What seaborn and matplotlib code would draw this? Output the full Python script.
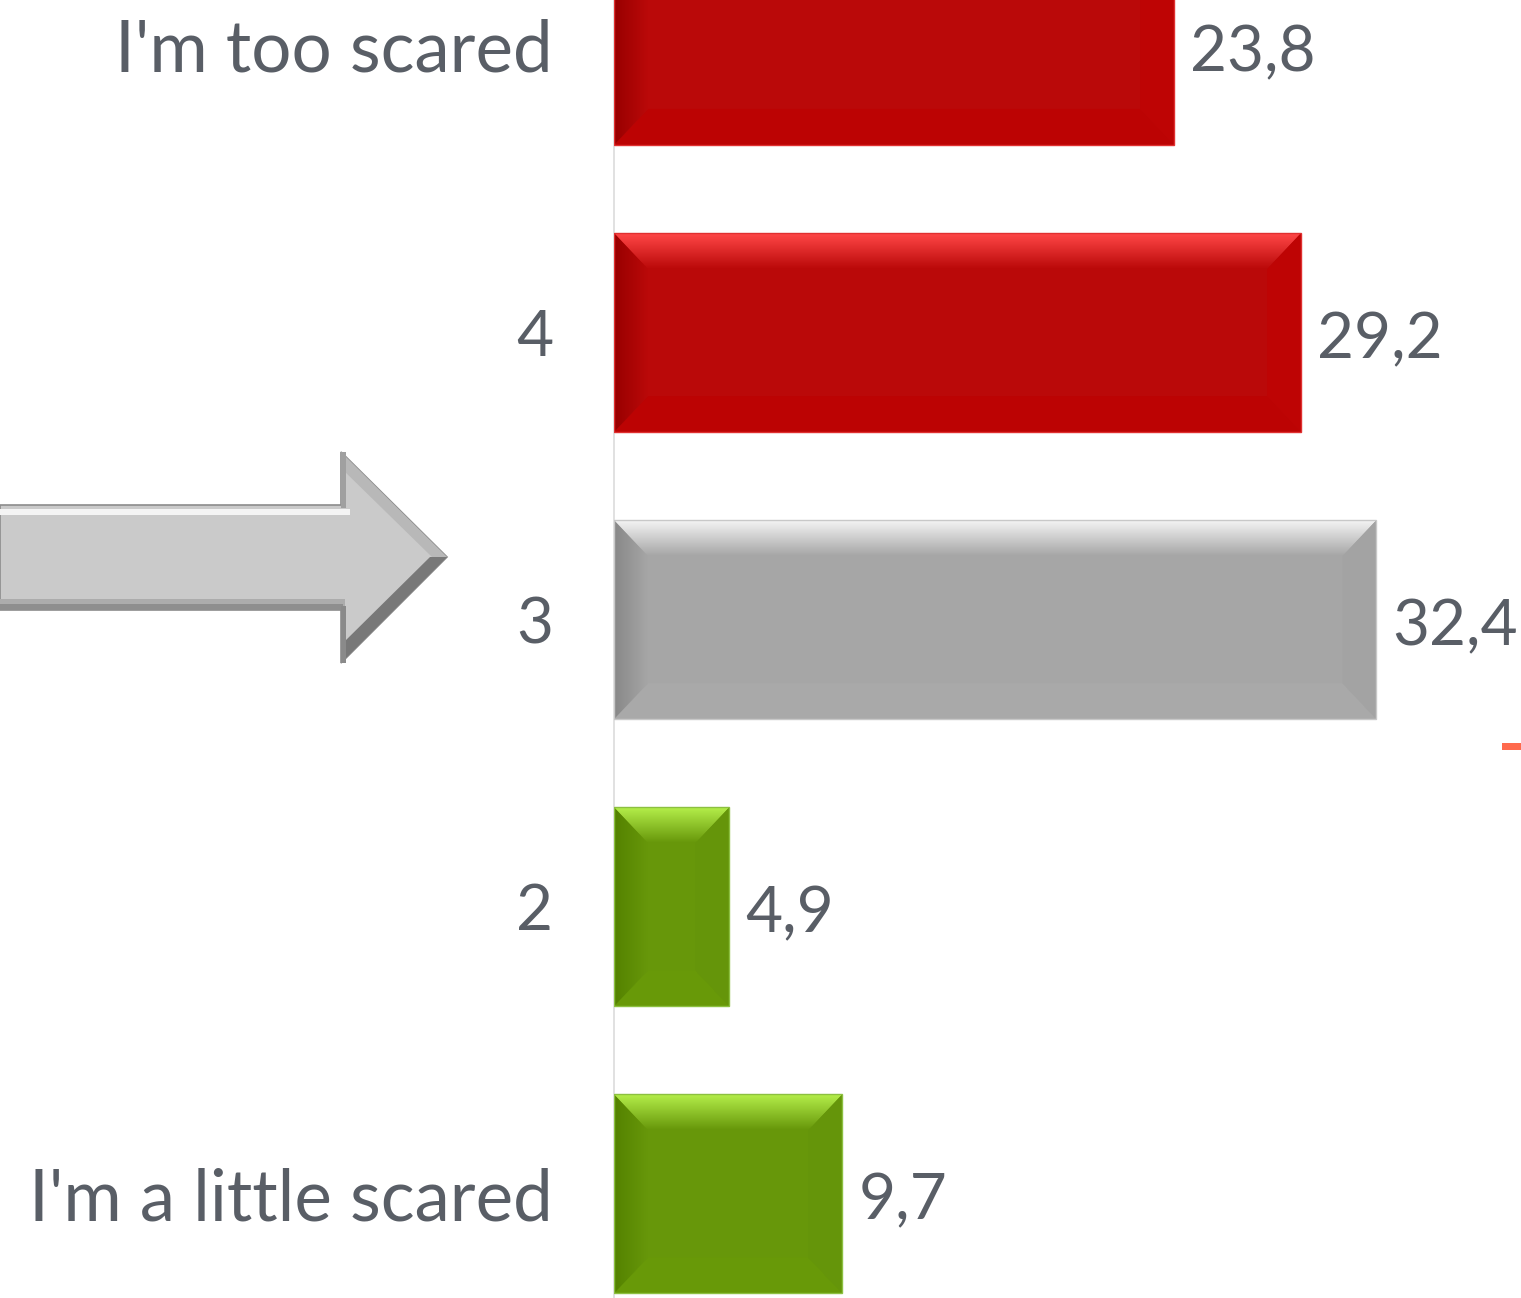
import numpy as np
import pandas as pd
import matplotlib
matplotlib.use("Agg")
import matplotlib.pyplot as plt
import seaborn as sns
from matplotlib.patches import Polygon, Rectangle
from matplotlib.colors import LinearSegmentedColormap

# ---- data ----
categories = ["I'm too scared", "4", "3", "2", "I'm a little scared"]
values = [23.8, 29.2, 32.4, 4.9, 9.7]
value_labels = ["23,8", "29,2", "32,4", "4,9", "9,7"]

# ---- styles ----
bar_colors = ["#BA0909", "#BA0909", "#A6A6A6", "#67970A", "#67970A"]
top_colors = ["#FF4747", "#FF4747", "#F4F4F4", "#B4EE4A", "#B4EE4A"]
left_colors = ["#980000", "#980000", "#888888", "#548200", "#548200"]
right_colors = ["#BE0404", "#BE0404", "#A3A3A3", "#65950A", "#65950A"]
bottom_colors = ["#BC0303", "#BC0303", "#A9A9A9", "#689908", "#689908"]
edge_colors = ["#E03030", "#E03030", "#C8C8C8", "#8CC040", "#8CC040"]
text_color = "#595E66"

W, H = 1521, 1298
sns.set_theme(style="white")
plt.rcParams['font.family'] = ['Lato', 'DejaVu Sans']

fig = plt.figure(figsize=(W / 100, H / 100), dpi=100)

# decorative overlay (arrow) in pixel coordinates
deco = fig.add_axes([0, 0, 1, 1])
deco.set_xlim(0, W)
deco.set_ylim(H, 0)
deco.axis("off")
deco.patch.set_alpha(0)

arrow_pts = [(0, 505), (341, 505), (341, 452), (447, 557), (341, 663), (341, 610), (0, 610)]
deco.add_patch(Polygon(arrow_pts, closed=True, facecolor="#CACACA", edgecolor="#8C8C8C", lw=1.2))
deco.add_patch(Rectangle((0, 509), 350, 6, facecolor="#F4F4F4", edgecolor="none"))
deco.add_patch(Rectangle((0, 599), 345, 11, facecolor="#ACACAC", edgecolor="none"))
deco.add_patch(Rectangle((0, 604), 343, 6, facecolor="#8E8E8E", edgecolor="none"))
deco.add_patch(Polygon([(447, 557), (341, 663), (341, 645), (430, 557)], closed=True,
                       facecolor="#787878", edgecolor="none"))
deco.add_patch(Polygon([(341, 452), (447, 557), (432, 557), (341, 468)], closed=True,
                       facecolor="#B8B8B8", edgecolor="none"))
deco.add_patch(Rectangle((341, 452), 5, 56, facecolor="#A0A0A0", edgecolor="none"))
deco.add_patch(Rectangle((341, 606), 5, 57, facecolor="#8A8A8A", edgecolor="none"))

# small orange dash at right (cropped element)
deco.add_patch(Rectangle((1502, 743), 19, 7, facecolor="#FF6A4D", edgecolor="none"))

# ---- main chart ----
x0_px = 614
px_per_unit = 23.53
centre0_px = 45.5
spacing_px = 287.1

ax = fig.add_axes([x0_px / W, 0, (W - x0_px) / W, 1])
ax.patch.set_alpha(0)
df = pd.DataFrame({"cat": categories, "val": values})
sns.barplot(data=df, y="cat", x="val", hue="cat", palette=bar_colors, legend=False,
            width=0.693, saturation=1, linewidth=0, ax=ax)

xmax = (W - x0_px) / px_per_unit
ytop = -centre0_px / spacing_px
ybot = (H - centre0_px) / spacing_px

bx = 34 / px_per_unit
by = 36 / spacing_px


def grad_fill(ax, poly, c0, c1, extent, vertical=True):
    cmap = LinearSegmentedColormap.from_list("g", [c0, c1])
    g = np.linspace(0, 1, 64)
    img = g[:, None] if vertical else g[None, :]
    im = ax.imshow(img, cmap=cmap, extent=extent, aspect="auto", origin="upper",
                   interpolation="bilinear", zorder=3)
    ax.add_patch(poly)
    im.set_clip_path(poly)


for p in list(ax.patches):
    x = p.get_x(); w = p.get_width(); y = p.get_y(); h = p.get_height()
    i = int(round(y + h / 2))
    main = bar_colors[i]
    x1 = x + w; y1 = y + h
    top = Polygon([(x, y), (x1, y), (x1 - bx, y + by), (x + bx, y + by)], closed=True,
                  facecolor="none", edgecolor="none")
    grad_fill(ax, top, top_colors[i], main, (x, x1, y + by, y))
    ax.add_patch(Polygon([(x, y1), (x1, y1), (x1 - bx, y1 - by), (x + bx, y1 - by)], closed=True,
                         facecolor=bottom_colors[i], edgecolor="none", zorder=3))
    left = Polygon([(x, y), (x + bx, y + by), (x + bx, y1 - by), (x, y1)], closed=True,
                   facecolor="none", edgecolor="none")
    grad_fill(ax, left, left_colors[i], main, (x, x + bx, y1, y), vertical=False)
    ax.add_patch(Polygon([(x1, y), (x1 - bx, y + by), (x1 - bx, y1 - by), (x1, y1)], closed=True,
                         facecolor=right_colors[i], edgecolor="none", zorder=3))
    ax.add_patch(Rectangle((x, y), w, h, facecolor="none", edgecolor=edge_colors[i],
                           lw=1.0, zorder=4))

for c in ax.containers:
    idx = [int(round(b.get_y() + b.get_height() / 2)) for b in c]
    texts = ax.bar_label(c, labels=[value_labels[k] for k in idx], padding=11.5,
                         fontsize=46, color=text_color)
    for t in texts:
        t.xyann = (11.5, -5.5)

ax.set_xlim(0, xmax)
ax.set_ylim(ybot, ytop)
ax.set_xlabel("")
ax.set_ylabel("")
ax.set_xticks([])
ax.tick_params(axis="y", length=0, pad=44, labelsize=46, labelcolor=text_color)
for lab in ax.get_yticklabels():
    if not lab.get_text().isdigit():
        lab.set_fontsize(51)
for s in ["top", "right", "bottom"]:
    ax.spines[s].set_visible(False)
ax.spines["left"].set_color("#DCDCDC")
ax.spines["left"].set_linewidth(1.2)

fig.savefig("out.png", dpi=100)
